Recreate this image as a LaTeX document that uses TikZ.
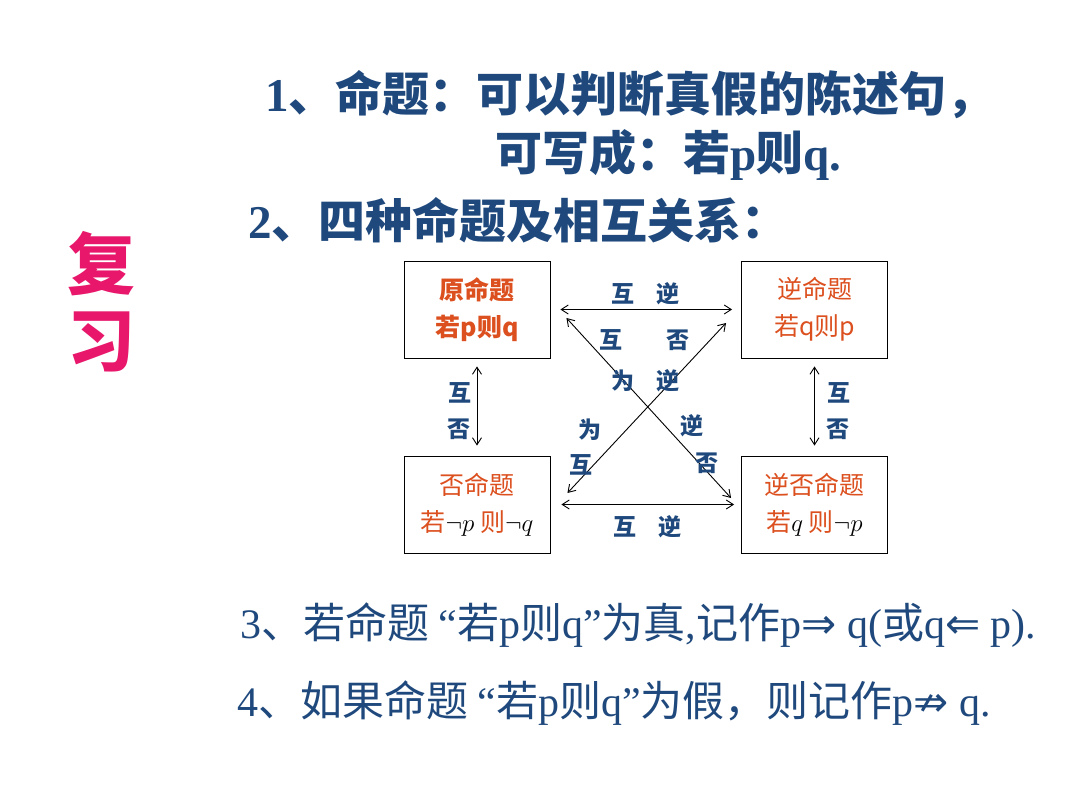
\documentclass[tikz,border=0pt]{standalone}
\usepackage{amssymb}
\usepackage{fontspec}
\setmainfont{Liberation Serif}
\newfontfamily\cjk{Noto Sans CJK SC}
\newfontfamily\symb{DejaVu Sans}
\usetikzlibrary{arrows.meta,calc,positioning}

\definecolor{TitleBlue}{HTML}{1F497D}
\definecolor{BoxRed}{HTML}{DC4F1E}
\definecolor{ReviewPink}{HTML}{E8176B}

\tikzset{
  propbox/.style={draw,line width=0.9pt,minimum width=146pt,minimum height=97pt,
    align=center,text=BoxRed,font=\cjk\fontsize{25}{37}\selectfont},
  rel/.style={<->,>={Straight Barb[length=7pt,width=9pt]},line width=0.9pt},
  rellabel/.style={text=TitleBlue,inner sep=0pt,font=\cjk\bfseries\fontsize{23}{23}\selectfont},
  headline/.style={anchor=west,inner sep=0pt,text=TitleBlue,font=\bfseries\fontsize{47}{47}\selectfont},
  bodyline/.style={anchor=west,inner sep=0pt,text=TitleBlue,font=\fontsize{42}{42}\selectfont},
  reviewmark/.style={text=ReviewPink,font=\cjk\bfseries\fontsize{68}{68}\selectfont},
}

\begin{document}
\begin{tikzpicture}[x=1pt,y=-1pt]
    \fill[white] (0,0) rectangle (1080,810);
    \useasboundingbox (0,0) rectangle (1080,810);
    % review mark
    \node[reviewmark] (fu) at (101,264) {复};
    \node[reviewmark] (xi) at (101,342) {习};
    % headings
    \node[headline] (head1) at (265,95) {1{\cjk 、命题：可以判断真假的陈述句，}};
    \node[headline] (head2) at (495,155) {{\cjk 可写成：若}p{\cjk 则}q.};
    \node[headline] (head3) at (248,220) {2{\cjk 、四种命题及相互关系：}};
    % the four propositions
    \node[propbox] (yuan) at (477,309.5) {{\bfseries 原命题}\\{\bfseries 若p则q}};
    \node[propbox] (ni) at (814.5,309.5) {逆命题\\若q则p};
    \node[propbox] (fou) at (477,504.5) {否命题\\若\textcolor{black}{$\neg p$} 则\textcolor{black}{$\neg q$}};
    \node[propbox] (nifou) at (814.5,504.5) {逆否命题\\若\textcolor{black}{$q$} 则\textcolor{black}{$\neg p$}};
    % relations
    \draw[rel,shorten <=10pt,shorten >=9pt] (yuan) -- (ni);
    \draw[rel,shorten <=11pt,shorten >=7pt] (fou) -- (nifou);
    \draw[rel,shorten <=8pt,shorten >=10pt] (yuan) -- (fou);
    \draw[rel,shorten <=8pt,shorten >=10pt] (ni) -- (nifou);
    \draw[rel] ([xshift=16pt,yshift=-8.5pt]yuan.east) -- ([xshift=-10pt,yshift=6.5pt]nifou.west);
    \draw[rel] ([xshift=-15pt,yshift=-13.5pt]ni.west) -- ([xshift=17pt,yshift=11.5pt]fou.east);
    \foreach \n/\x/\y/\t in {
      a/623/294/互,b/668/294/逆,c/625/527/互,d/670/527/逆,
      e/460/393/互,f/459/429/否,g/839/393/互,h/838/429/否,
      i/611/340/互,j/678/340/否,k/623/381/为,l/668/381/逆,
      m/590/430/为,n/581/465/互,o/692/426/逆,p/707/463/否}{%
      \node[rellabel] (lbl\n) at (\x,\y) {\t};
    }
    % notation
    \node[bodyline] (note3) at (240,625) {3{\cjk 、若命题 }“{\cjk 若}p{\cjk 则}q”{\cjk 为真}{,}{\cjk 记作}p{\symb ⇒} q({\cjk 或}q{\symb ⇐} p).};
    \node[bodyline] (note4) at (237,703) {4{\cjk 、如果命题 }“{\cjk 若}p{\cjk 则}q”{\cjk 为假，则记作}p{\symb ⇏} q.};
  \end{tikzpicture}
\end{document}
